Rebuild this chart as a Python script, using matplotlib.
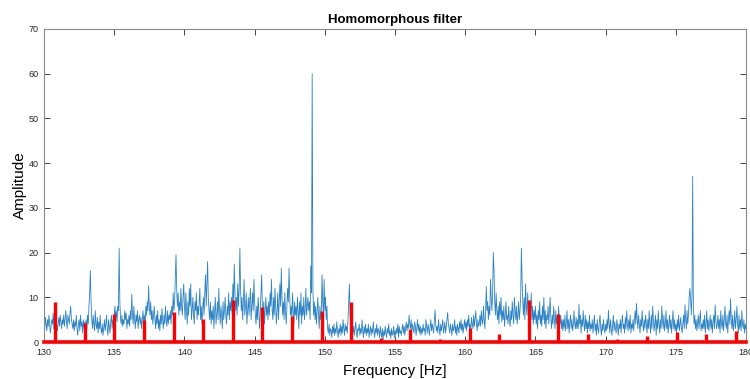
import numpy as np
import matplotlib.pyplot as plt

plt.rcParams["font.family"] = "Liberation Sans"

# spectrum after the homomorphous filter, 0.05 Hz steps, one row per Hz (130 ... 179)
amp_rows = [
    [4.5, 3, 5.5, 4, 2.5, 5, 3.5, 6, 4, 2, 3.5, 5, 4, 6.5, 3, 7, 5, 3, 4, 2.5],
    [4, 5.5, 3.5, 6, 4.5, 3, 5, 4, 6, 3.5, 5, 7, 4.5, 3, 6, 5, 4, 6.5, 8, 5],
    [4, 3, 5, 2.5, 4.5, 3.5, 6, 3, 1.5, 4, 5, 2.5, 6, 3.5, 4.5, 2, 5, 3, 4.5, 3],
    [5, 3, 6, 4, 8, 11, 16, 9, 5, 3, 6, 4, 2.5, 7, 4, 3, 5.5, 2, 4.5, 3],
    [6, 3, 2, 4, 1.5, 3, 5, 2.5, 4, 6, 3, 1.5, 5, 3.5, 2, 4.5, 6, 3, 5, 4],
    [6, 8, 5, 7, 4.5, 8, 7, 21, 9, 5, 4, 6, 3.5, 5, 4, 7, 5, 6.5, 3, 5],
    [4, 6, 3.5, 7, 5, 10.7, 6, 4, 8, 5, 3, 6, 4.5, 7, 3, 5, 6, 4, 5.5, 3],
    [5, 7, 4, 6, 3, 8, 6, 9, 7, 12.6, 8, 6, 9, 5, 7, 4, 6, 8, 5, 3],
    [6, 4, 7, 3, 5, 2.5, 6, 4, 7.5, 5, 3, 6, 4, 8, 5, 3.5, 7, 4, 6, 5],
    [7, 4, 8, 6, 11, 7, 9, 14, 19.5, 12, 8, 11, 6, 9, 7, 12, 8, 6, 10, 13],
    [8, 5, 11, 7, 4, 9, 6, 12, 8, 13, 5, 7, 10, 6, 4, 9, 7, 11, 5, 8],
    [6, 9, 12, 5, 8, 4, 7, 10, 6, 11, 15, 8, 13, 18, 10, 7, 5, 9, 4, 7],
    [5, 8, 3, 7, 10, 4, 6, 9, 5, 12, 7, 4, 8, 6, 3, 9, 5, 7, 10, 6],
    [4, 8, 6, 11, 5, 9, 7, 10, 6, 13, 9, 17.4, 11, 7, 10, 6, 13, 8, 12, 21],
    [12, 7, 10, 5, 9, 14, 6, 8, 11, 4, 7, 10, 6, 9, 12, 5, 8, 11, 7, 14],
    [9, 6, 4, 8, 5, 10, 7, 3, 6, 11, 15, 8, 5, 9, 4, 7, 10, 6, 8, 5],
    [9, 6, 11, 8, 14, 7, 5, 10, 6, 12, 8, 4, 7, 11, 5, 9, 13, 8, 16.5, 10],
    [6, 9, 5, 11, 7, 4, 8, 12, 9, 16.5, 10, 6, 8, 5, 11, 7, 4, 9, 6, 8],
    [5, 10, 7, 3, 9, 6, 11, 4, 8, 6, 10, 5, 7, 12, 6, 8, 10, 7, 9, 5],
    [17, 11, 60, 12, 6, 9, 5, 8, 4, 7, 10, 6, 3, 8, 5, 7, 15, 9, 6, 14],
    [7, 10, 5, 8, 3, 2, 4, 1.5, 3, 2.5, 1, 3.5, 2, 4, 1.5, 3, 2, 4.5, 2.5, 1],
    [3, 2, 4, 1.5, 3.5, 2, 5, 3, 1.5, 4, 2.5, 3.5, 2, 5, 9, 13, 6, 3, 2, 4],
    [2, 3.5, 1.5, 3, 4.5, 2, 1, 3, 2.5, 4, 1.5, 3, 2, 5, 2.5, 1, 3.5, 2, 4, 1.5],
    [3, 2, 4, 1, 2.5, 3.5, 1.5, 3, 2, 4.5, 2.5, 1, 3, 2, 4, 1.5, 3, 2.5, 1, 3.5],
    [2, 1, 3, 0.5, 2.5, 1.5, 3.5, 2, 1, 3, 2, 4, 1.5, 2.5, 0.8, 3, 1.5, 2, 3.5, 1],
    [2.5, 1.5, 3, 2, 4, 1, 3.5, 2, 2.5, 1.5, 3, 4, 2, 3.5, 1.5, 3, 4.5, 2.5, 4, 3],
    [6, 4, 3, 5, 2.5, 4, 3, 2, 4.5, 3.5, 1.5, 3, 5, 2.5, 4, 2, 3.5, 1.5, 3, 2],
    [4, 2.5, 3, 1.5, 5, 3.5, 2, 4, 3, 1.5, 3.5, 5, 2.5, 4, 3, 2, 4.5, 7.2, 4, 2.5],
    [3.5, 2, 5, 3, 1.5, 4, 2.5, 3.5, 5, 2, 3, 4.5, 2, 3.5, 5, 6.6, 4, 3, 2, 4],
    [3, 1.5, 4, 2.5, 3, 5, 2, 3.5, 1.5, 4, 3, 2, 4.5, 3, 5, 2.5, 4, 2, 3.5, 5],
    [3, 4.5, 2.5, 5, 3.5, 6, 3, 4, 2.5, 5.5, 4, 3, 6, 3.5, 5, 7, 4, 2.5, 5, 3.5],
    [4, 6, 3.5, 7, 5, 4, 8, 5, 3, 6.5, 12.4, 7, 9, 5, 8, 6, 14, 10, 7, 11],
    [20, 16, 9, 6, 11, 7, 5, 8, 4, 9, 6, 10, 4.5, 7, 5, 8, 3.5, 6, 9, 5],
    [6, 4, 8, 5, 3.5, 7, 5, 9, 6, 4, 10, 7, 5, 8, 4, 6, 9, 5, 7, 10],
    [21, 14, 9, 6, 10, 5, 13, 8, 6, 11, 7, 4, 9, 6, 11, 5, 8, 4, 7, 5],
    [8, 4, 6, 3, 7, 5, 9, 4, 6, 3.5, 8, 5, 10, 4, 7, 3, 6, 5, 8, 4],
    [7, 10, 5, 3, 6, 4, 8, 5, 3, 7, 4, 6, 3.5, 8, 5, 4, 6, 3, 5, 2.5],
    [5, 3, 6, 2.5, 4, 7, 3, 5, 2, 4.5, 6, 3, 5, 2.5, 4, 7, 4, 3, 5.5, 3],
    [5, 3, 8.5, 4, 6, 2, 5, 3.5, 7, 4, 2.5, 6, 3, 5, 2, 4.5, 3, 6, 2.5, 4],
    [3, 5, 2, 4, 6, 2.5, 4, 1.5, 5, 3, 2, 4.5, 6, 3, 1.5, 4, 2.5, 5, 3, 2],
    [4, 2.5, 5, 3, 7.1, 4, 2, 5, 3, 1.5, 4, 6, 2.5, 4.5, 3, 2, 5, 3.5, 1.5, 4],
    [3, 5, 2, 4.5, 6, 3, 4, 2, 5.5, 3, 7, 4, 2.5, 5, 3, 6, 2, 4, 3, 5],
    [2.5, 5, 7, 4, 8.6, 5, 3, 6, 4, 2, 5, 3.5, 7, 4, 2.5, 5, 3, 6, 4, 2],
    [5, 3, 7, 4, 2, 6, 3, 8, 5, 2.5, 4, 6, 1.5, 5, 3, 7, 4, 2, 5, 3],
    [8, 5, 3, 6, 2.5, 4, 7, 3, 5, 2, 4, 6, 3, 5, 2, 4.5, 7, 3, 5, 2.5],
    [4, 2, 5, 3, 6, 2.5, 4, 5.5, 3, 2, 4, 6, 3, 8.3, 5, 3, 7, 4, 6, 10],
    [12, 10, 6, 10, 37, 8, 4, 6, 3, 5, 2.5, 4, 6, 3, 5, 7, 2.5, 4, 3, 5],
    [3, 6, 2, 4, 7, 3, 5, 2.5, 4, 6, 3, 5, 2, 4.5, 6, 3, 8.3, 5, 3, 4],
    [6, 3, 5, 2, 7, 4, 3, 6, 2.5, 5, 8, 4, 3, 6, 2, 5, 7, 4, 9.7, 5],
    [3, 6, 2.5, 4, 7, 3, 5, 8, 4, 2, 6, 3, 5, 2.5, 7, 4, 3, 5, 2, 4],
    [3],
]
amp = np.concatenate([np.array(r, dtype=float) for r in amp_rows])
freq = 130 + 0.05 * np.arange(len(amp))

# harmonic comb (red stems)
comb_f = [130.78, 132.92, 135.0, 137.12, 139.24, 141.32, 143.43, 145.55,
          147.66, 149.78, 151.87, 153.98, 156.09, 158.2, 160.32, 162.4,
          164.52, 166.63, 168.72, 170.83, 172.95, 175.06, 177.15, 179.29]
comb_a = [8.9, 4.2, 6.3, 4.9, 6.6, 5.1, 9.5, 7.9, 5.8, 7.0, 8.9, 0.8,
          2.8, 0.6, 3.2, 1.8, 9.4, 6.2, 1.8, 0.7, 1.3, 2.2, 1.9, 2.5]

fig = plt.figure(figsize=(7.5, 3.79), dpi=100)
ax = fig.add_axes([0.0587, 0.0976, 0.936, 0.826])

ax.plot(freq, amp, color='#2b83c6', lw=0.6)
ax.vlines(comb_f, 0, comb_a, color='#ff0000', lw=2.4, zorder=3)
ax.plot([130, 180], [0, 0], color='#ff0000', lw=2.6, zorder=3, clip_on=False)

ax.set_xlim(130, 180)
ax.set_ylim(0, 70)
ax.set_xticks(np.arange(130, 181, 5))
ax.set_yticks(np.arange(0, 71, 10))

ax.tick_params(direction='in', top=True, right=True, length=4, width=0.6,
               labelsize=6.5, colors='#262626', pad=4)
for s in ax.spines.values():
    s.set_color('#8a8a8a')
    s.set_linewidth(0.8)

ax.set_title("Homomorphous filter", fontsize=9.5, fontweight='bold', pad=4)
ax.set_xlabel("Frequency [Hz]", fontsize=11, labelpad=5)
ax.set_ylabel("Amplitude", fontsize=11, labelpad=1)

fig.savefig("out.png", dpi=100)
